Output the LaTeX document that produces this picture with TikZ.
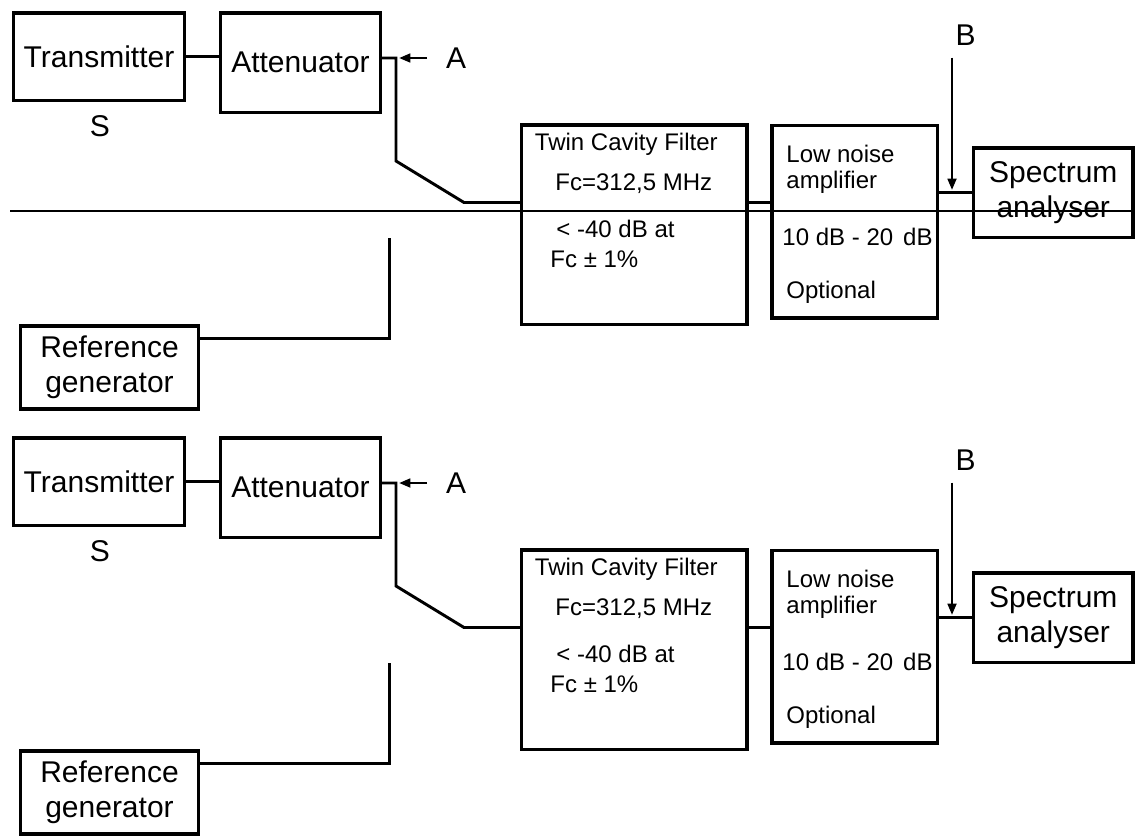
\documentclass[tikz,border=0pt]{standalone}
\usepackage{fontspec}
\setmainfont{Liberation Sans}
\usetikzlibrary{arrows.meta}
\tikzset{every picture/.style={line width=2.2pt},
  blk/.style={draw, line width=2.5pt, inner sep=0pt, align=center,
    font=\fontsize{22.5}{26.25}\selectfont},
  lbl/.style={inner sep=0pt, anchor=base west, font=\fontsize{18}{21}\selectfont},
  tag/.style={inner sep=0pt, font=\fontsize{22.5}{26}\selectfont},
  probe/.style={line width=1.9pt, -{Triangle[length=8.5pt,width=6.5pt]}}}

\begin{document}
\begin{tikzpicture}[x=0.75pt,y=-0.75pt]
    \useasboundingbox (0,0) rectangle (1135,839);
    % same set-up drawn twice, top and bottom
    \foreach \dy/\s in {0/t,425/b}{
    \begin{scope}[shift={(0,\dy)}]
        \node[blk, minimum width=128.25pt, minimum height=65.6pt] (tx\s) at (99,56.75) {Transmitter};
        \node[blk, minimum width=120pt, minimum height=74.6pt] (at\s) at (300.5,62.75) {Attenuator};
        \node[blk, minimum width=169.1pt, minimum height=149.6pt] (fl\s) at (634.25,224.75) {};
        \node[blk, minimum width=124.1pt, minimum height=144.4pt] (ln\s) at (854.75,221.75) {};
        \node[blk, minimum width=119.6pt, minimum height=67.1pt] (sp\s) at (1053.25,192.75) {Spectrum\\analyser};
        \node[blk, minimum width=133.5pt, minimum height=62.25pt] (rg\s) at (109.5,367.5) {Reference\\generator};
        \node[tag] (ls\s) at (100,126) {S};
        \node[tag] (la\s) at (456,58) {A};
        \node[tag] (lb\s) at (965.5,35) {B};
        \node[lbl] (f1\s) at (533.5,150) {Twin Cavity Filter};
        \node[lbl] (f2\s) at (554,190) {Fc=312,5 MHz};
        \node[lbl] (f3\s) at (555,237) {< -40 dB at};
        \node[lbl] (f4\s) at (549,267) {Fc ± 1\%};
        \node[lbl] (n1\s) at (785,162) {Low noise};
        \node[lbl] (n2\s) at (785,188) {amplifier};
        \node[lbl] (n3\s) at (781,245) {10 dB - 20\hspace{2.5pt} dB};
        \node[lbl] (n4\s) at (785,298) {Optional};
        \coordinate (k1\s) at (396,58);
        \coordinate (k2\s) at (396,161);
        \coordinate (k3\s) at (464,202.5);
        \coordinate (k5\s) at (389.5,338.5);
        \coordinate (k6\s) at (389.5,237.5);
        \coordinate (a0\s) at (427,58);
        \coordinate (a1\s) at (399,58);
        \coordinate (b0\s) at (952,57.5);
        \coordinate (b1\s) at (952,190);
        \draw (tx\s.east) -- (tx\s.east -| at\s.west);
        \draw (at\s.east |- k1\s) -- (k1\s) -- (k2\s) -- (k3\s) -- (k3\s -| fl\s.west);
        \draw (fl\s.east |- k3\s) -- (k3\s -| ln\s.west);
        \draw (sp\s.west) -- (sp\s.west -| ln\s.east);
        \draw (rg\s.east |- k5\s) -- (k5\s) -- (k6\s);
        \draw[probe] (a0\s) -- (a1\s);
        \draw[probe] (b0\s) -- (b1\s);
    \end{scope}
    }
    \coordinate (h0) at (10,211);
    \coordinate (h1) at (1135,211);
    \draw[line width=1.6pt] (h0) -- (h1);
\end{tikzpicture}
\end{document}
